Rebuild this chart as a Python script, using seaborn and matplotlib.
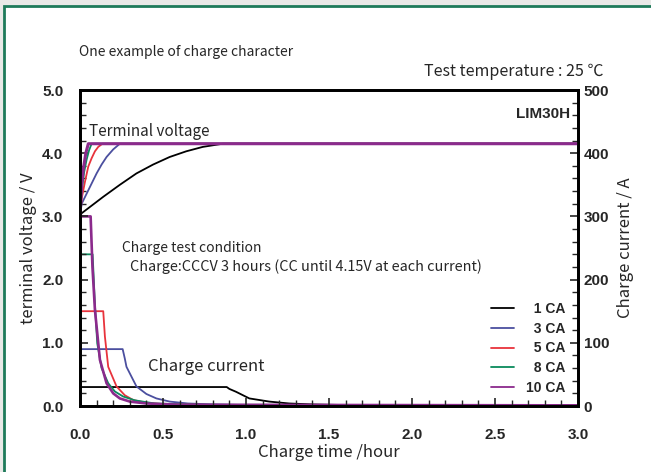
# Charge characteristics of LIM30H (terminal voltage and charge current vs. time)
import numpy as np
import pandas as pd
import matplotlib
matplotlib.use("Agg")
import matplotlib.pyplot as plt
import seaborn as sns
from matplotlib.patches import Rectangle
from matplotlib.ticker import MultipleLocator

# rates and colours
rates = ["1 CA", "3 CA", "5 CA", "8 CA", "10 CA"]
colors = ["#000000", "#4b4f9f", "#e8333c", "#0a8a5c", "#8b2a8c"]

# terminal voltage (V) vs charge time (h)
v_t_1 = [0, 0.01, 0.05, 0.14, 0.24, 0.34, 0.44, 0.54, 0.64, 0.74, 0.86, 3.0]
v_1 = [3.0, 3.05, 3.13, 3.31, 3.50, 3.68, 3.82, 3.94, 4.03, 4.10, 4.15, 4.15]
v_t_3 = [0, 0.01, 0.04, 0.07, 0.10, 0.13, 0.16, 0.20, 0.24, 3.0]
v_3 = [3.0, 3.20, 3.36, 3.52, 3.68, 3.82, 3.94, 4.06, 4.15, 4.15]
v_t_5 = [0, 0.01, 0.03, 0.05, 0.07, 0.09, 0.11, 0.135, 3.0]
v_5 = [3.0, 3.28, 3.55, 3.79, 3.92, 4.03, 4.10, 4.15, 4.15]
v_t_8 = [0, 0.01, 0.025, 0.04, 0.055, 0.07, 3.0]
v_8 = [3.0, 3.40, 3.70, 3.90, 4.05, 4.15, 4.15]
v_t_10 = [0, 0.01, 0.02, 0.035, 0.05, 3.0]
v_10 = [3.0, 3.50, 3.75, 4.00, 4.15, 4.15]

# charge current (A) vs charge time (h)
i_t_1 = [0, 0.884, 0.90, 0.94, 1.02, 1.14, 1.26, 1.40, 1.60, 2.00, 3.0]
i_1 = [30, 30, 27, 22.5, 12, 7, 4, 2.5, 1.5, 1, 1]
i_t_3 = [0, 0.257, 0.27, 0.28, 0.34, 0.40, 0.46, 0.54, 0.65, 0.80, 1.00, 3.0]
i_3 = [90, 90, 75, 62, 31, 19, 12, 7, 4, 2.5, 1.5, 1]
i_t_5 = [0, 0.14, 0.15, 0.17, 0.22, 0.27, 0.32, 0.40, 0.50, 0.70, 1.00, 3.0]
i_5 = [150, 150, 110, 62, 31, 17, 9.5, 5, 3, 2, 1, 1]
i_t_8 = [0, 0.076, 0.09, 0.104, 0.13, 0.17, 0.21, 0.26, 0.33, 0.45, 0.70, 3.0]
i_8 = [240, 240, 160, 99, 60, 36, 23, 15, 9, 4, 2, 1]
i_t_10 = [0, 0.064, 0.075, 0.09, 0.12, 0.16, 0.20, 0.24, 0.30, 0.40, 0.60, 3.0]
i_10 = [300, 300, 220, 152, 73, 36, 20, 12, 7, 4, 2, 1]

volt_t = [v_t_1, v_t_3, v_t_5, v_t_8, v_t_10]
volt = [v_1, v_3, v_5, v_8, v_10]
curr_t = [i_t_1, i_t_3, i_t_5, i_t_8, i_t_10]
curr = [i_1, i_3, i_5, i_8, i_10]

sns.set_theme(style="white")
plt.rcParams["font.family"] = ["Noto Sans CJK JP", "DejaVu Sans"]
tick_font = {"family": "Liberation Sans", "weight": "bold", "size": 11}

fig = plt.figure(figsize=(6.51, 4.72), dpi=100)
fig.patch.set_facecolor("#e9e9e7")
# white panel with green border
fig.patches.append(Rectangle((4 / 651, -0.1), 1.2, 1 - 6 / 472 + 0.1, transform=fig.transFigure,
                             facecolor="white", edgecolor="#1e7a5a", linewidth=2, zorder=-5))

ax = fig.add_axes([80 / 651, 1 - 406 / 472, 498 / 651, 316 / 472])
ax2 = ax.twinx()
ax.set_zorder(2)
ax2.set_zorder(1)
ax.patch.set_visible(False)
ax2.patch.set_visible(False)

# current curves on right axis
for t, a, c, r in zip(curr_t, curr, colors, rates):
    df = pd.DataFrame({"t": t, "a": a})
    sns.lineplot(data=df, x="t", y="a", ax=ax2, color=c, sort=False, estimator=None,
                 linewidth=1.9 if r == "10 CA" else 1.3)

# voltage curves on left axis
for t, v, c, r in zip(volt_t, volt, colors, rates):
    df = pd.DataFrame({"t": t, "v": v})
    sns.lineplot(data=df, x="t", y="v", ax=ax, color=c, sort=False, estimator=None,
                 linewidth=2.2 if r == "10 CA" else 1.3, label="\u2007" + r if r != "10 CA" else r)

ax.set_xlim(0, 3.0)
ax.set_ylim(0, 5.0)
ax2.set_ylim(0, 500)
ax.xaxis.set_major_locator(MultipleLocator(0.5))
ax.xaxis.set_minor_locator(MultipleLocator(0.1))
ax.yaxis.set_major_locator(MultipleLocator(1.0))
ax.yaxis.set_minor_locator(MultipleLocator(0.2))
ax2.yaxis.set_major_locator(MultipleLocator(100))
ax2.yaxis.set_minor_locator(MultipleLocator(20))
ax.xaxis.set_major_formatter(lambda x, p: f"{x:.1f}")
ax.yaxis.set_major_formatter(lambda x, p: f"{x:.1f}")

ax.tick_params(axis="both", which="both", direction="in", bottom=True, left=True, top=False, right=False)
ax.tick_params(axis="both", which="major", length=6, width=1.2)
ax.tick_params(axis="both", which="minor", length=4, width=1)
ax.tick_params(axis="y", which="major", pad=12)
ax.tick_params(axis="x", which="major", pad=16)
ax2.tick_params(axis="y", which="both", direction="in", right=True)
ax2.tick_params(axis="y", which="major", length=6, width=1.2, pad=4)
ax2.tick_params(axis="y", which="minor", length=4, width=1)
for lbl in ax.get_xticklabels() + ax.get_yticklabels() + ax2.get_yticklabels():
    lbl.set_fontproperties(tick_font)
    lbl.set_fontsize(11)

for a in (ax, ax2):
    for s in a.spines.values():
        s.set_color("black")
        s.set_linewidth(2)

ax.set_xlabel("Charge time /hour", fontsize=12, labelpad=1)
ax.set_ylabel("terminal voltage / V", fontsize=12, labelpad=4)
ax2.set_ylabel("Charge current / A", fontsize=12, labelpad=6)

leg = ax.legend(loc="upper right", bbox_to_anchor=(0.975, 0.33), frameon=False,
                handlelength=1.6, handletextpad=0.9, labelspacing=0.42, borderaxespad=0, borderpad=0,
                prop={"family": "Liberation Sans", "weight": "bold", "size": 10})
for h in leg.get_lines():
    h.set_linewidth(1.3)

# annotations
fig.text(79 / 651, 1 - 52 / 472, "One example of charge character", fontsize=10, va="center")
fig.text(603 / 651, 1 - 72 / 472, "Test temperature : 25 \u2103", fontsize=11.5, va="center", ha="right")
ax.text(0.985, 0.925, "LIM30H", transform=ax.transAxes, ha="right", va="center",
        fontfamily="Liberation Sans", fontweight="bold", fontsize=11)
ax.text(0.055, 4.35, "Terminal voltage", fontsize=11, va="center")
ax.text(0.25, 2.5, "Charge test condition", fontsize=10, va="center")
ax.text(0.30, 2.2, "Charge:CCCV 3 hours (CC until 4.15V at each current)", fontsize=10.4, va="center")
ax.text(0.41, 0.63, "Charge current", fontsize=12, va="center")

plt.savefig("out.png", dpi=100, facecolor=fig.get_facecolor())
